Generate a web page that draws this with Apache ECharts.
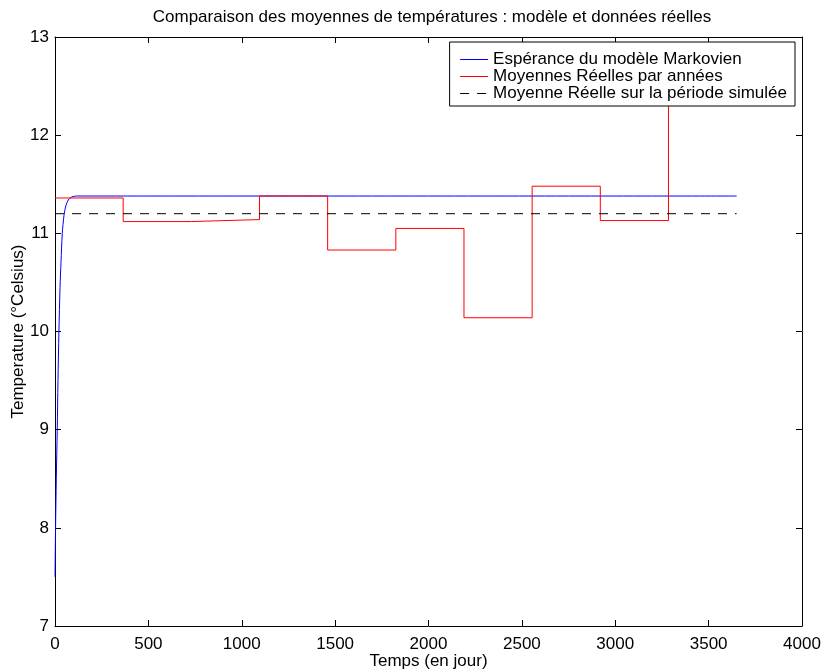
<!DOCTYPE html>
<html>
<head>
<meta charset="utf-8">
<script src="https://cdn.jsdelivr.net/npm/echarts@6/dist/echarts.min.js"></script>
<style>
  html, body { margin: 0; padding: 0; background: #fff; }
  #chart { width: 824px; height: 671px; }
</style>
</head>
<body>
<div id="chart"></div>
<script>
// Expected temperature of the Markov model over the simulated days
const markovDays   = [0, 3, 7, 12, 16, 21, 27, 32, 39, 48, 58, 71, 90, 116, 3650];
const markovValues = [7.5, 8.0, 8.5, 9.0, 9.5, 10.0, 10.45, 10.7, 11.0, 11.18, 11.28, 11.34, 11.37, 11.38, 11.38];

// Observed yearly mean temperatures (one value per 365-day block)
const yearStarts = [0, 365, 730, 1095, 1460, 1825, 2190, 2555, 2920, 3285];
const yearMeans  = [11.36, 11.12, 11.14, 11.38, 10.83, 11.05, 10.14, 11.48, 11.13, 12.8];
const periodEnd  = 3650;

// Observed mean over the whole simulated period
const periodMean = 11.2;

const xTicks = { min: 0, max: 4000, step: 500 };
const yTicks = { min: 7, max: 13, step: 1 };

const FONT = '"Liberation Sans", Arial, Helvetica, sans-serif';
const FS = 17;
const DASH = [9, 8];
const BLUE = '#0000ff', RED = '#ff0000', BLACK = '#000000';

const markovData = markovDays.map((d, i) => [d, markovValues[i]]);
const yearlyData = yearStarts.map((d, i) => [d, yearMeans[i]]);
yearlyData.push([periodEnd, yearMeans[yearMeans.length - 1]]);
const meanData = [[0, periodMean], [periodEnd, periodMean]];

const axisCommon = {
  type: 'value',
  axisLine: { show: true, onZero: false, lineStyle: { color: '#000', width: 1 } },
  axisTick: { show: true, inside: true, length: 6, lineStyle: { color: '#000', width: 1 } },
  splitLine: { show: false }
};
const plainNumber = v => String(v);

const chart = echarts.init(document.getElementById('chart'), null, { renderer: 'canvas' });
chart.setOption({
  animation: false,
  backgroundColor: '#fff',
  textStyle: { fontFamily: FONT },
  title: {
    text: 'Comparaison des moyennes de températures : modèle et données réelles',
    left: 427,
    textAlign: 'center',
    top: 4,
    textStyle: { fontFamily: FONT, fontSize: FS, fontWeight: 'normal', color: '#000' }
  },
  grid: { left: 55, right: 22, top: 37, bottom: 45, containLabel: false, outerBoundsMode: 'none' },
  legend: {
    orient: 'vertical',
    right: 29,
    top: 42,
    align: 'left',
    backgroundColor: '#fff',
    borderColor: '#000',
    borderWidth: 1,
    padding: [9, 8, 4, 10],
    itemWidth: 28,
    itemHeight: 14,
    itemGap: 0,
    itemStyle: { opacity: 0 },
    lineStyle: { width: 1 },
    textStyle: { fontFamily: FONT, fontSize: FS, color: '#000' },
    data: [
      'Espérance du modèle Markovien',
      'Moyennes Réelles par années',
      'Moyenne Réelle sur la période simulée'
    ]
  },
  xAxis: [
    Object.assign({}, axisCommon, {
      position: 'bottom',
      min: xTicks.min, max: xTicks.max, interval: xTicks.step,
      name: 'Temps (en jour)',
      nameLocation: 'middle',
      nameGap: 27,
      nameMoveOverlap: false,
      nameTextStyle: { fontFamily: FONT, fontSize: FS, color: '#000' },
      axisLabel: { color: '#000', fontSize: FS, fontFamily: FONT, margin: 10, formatter: plainNumber }
    }),
    Object.assign({}, axisCommon, {
      position: 'top',
      min: xTicks.min, max: xTicks.max, interval: xTicks.step,
      axisLabel: { show: false }
    })
  ],
  yAxis: [
    Object.assign({}, axisCommon, {
      position: 'left',
      min: yTicks.min, max: yTicks.max, interval: yTicks.step,
      name: 'Temperature (°Celsius)',
      nameLocation: 'middle',
      nameGap: 28,
      nameMoveOverlap: false,
      nameTextStyle: { fontFamily: FONT, fontSize: FS, color: '#000' },
      axisLabel: { color: '#000', fontSize: FS, fontFamily: FONT, margin: 6, formatter: plainNumber }
    }),
    Object.assign({}, axisCommon, {
      position: 'right',
      min: yTicks.min, max: yTicks.max, interval: yTicks.step,
      axisLabel: { show: false }
    })
  ],
  series: [
    {
      name: 'Espérance du modèle Markovien',
      type: 'line',
      xAxisIndex: 0, yAxisIndex: 0,
      data: markovData,
      symbol: 'none',
      smooth: 0.3,
      color: BLUE,
      lineStyle: { color: BLUE, width: 1 },
      itemStyle: { color: BLUE }
    },
    {
      name: 'Moyennes Réelles par années',
      type: 'line',
      xAxisIndex: 0, yAxisIndex: 0,
      data: yearlyData,
      step: 'end',
      symbol: 'none',
      color: RED,
      lineStyle: { color: RED, width: 1 },
      itemStyle: { color: RED }
    },
    {
      name: 'Moyenne Réelle sur la période simulée',
      type: 'line',
      xAxisIndex: 0, yAxisIndex: 0,
      data: meanData,
      symbol: 'none',
      color: BLACK,
      lineStyle: { color: BLACK, width: 1, type: DASH },
      itemStyle: { color: BLACK }
    }
  ]
});
</script>
</body>
</html>
